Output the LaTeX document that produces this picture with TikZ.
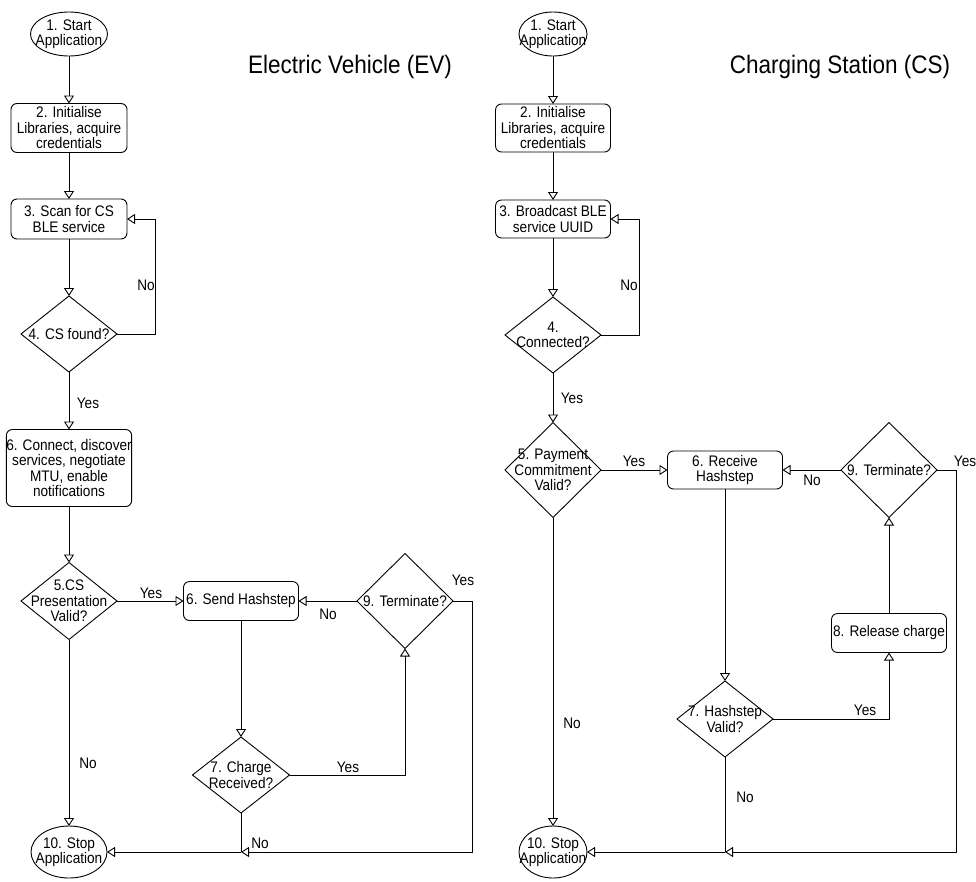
\documentclass[tikz,border=0pt]{standalone}
\usepackage{fontspec}
\setmainfont[FakeStretch=0.89]{Liberation Sans}
\usetikzlibrary{arrows.meta,shapes.geometric}
\newcommand{\lblfont}{\fontsize{15.3}{15.5}\selectfont}
\newcommand{\ttlfont}{\fontsize{25.3}{28}\selectfont}
\begin{document}
\begin{tikzpicture}[x=1pt,y=-1pt,
  base/.style={draw, line width=0.9pt, inner sep=0pt, outer sep=0pt},
  proc/.style={base, rectangle, rounded corners=6pt, align=center, font=\lblfont},
  dec/.style={base, diamond},
  term/.style={base, ellipse},
  txt/.style={align=center, font=\lblfont, inner sep=0pt},
  lab/.style={font=\lblfont, inner sep=0pt},
  ttl/.style={font=\ttlfont, inner sep=0pt},
  flow/.style={line width=0.9pt, -{Triangle[open, length=8pt, width=10pt]}},
  plain/.style={line width=0.9pt},
]
\useasboundingbox (0,0) rectangle (976,881);

% ---------------- Electric Vehicle ----------------
\node[ttl] (tev) at (350,67) {Electric Vehicle (EV)};
\node[term, minimum width=77, minimum height=44, label={[txt]center:{1. Start\\Application}}] (e1) at (69,34) {};
\node[proc, minimum width=116, minimum height=49] (e2) at (69,128) {2. Initialise\\Libraries, acquire\\credentials};
\node[proc, minimum width=116, minimum height=40] (e3) at (69,219) {3. Scan for CS\\BLE service};
\node[dec, minimum width=96, minimum height=76, label={[txt]center:{4. CS found?}}] (e4) at (69,334) {};
\node[proc, minimum width=124, minimum height=77] (e6) at (69,468) {6. Connect, discover\\services, negotiate\\MTU, enable\\notifications};
\node[dec, minimum width=96, minimum height=77, label={[txt]center:{5.CS\\Presentation\\Valid?}}] (e5) at (69,601) {};
\node[proc, minimum width=115, minimum height=39] (eh) at (241,601) {6. Send Hashstep};
\node[dec, minimum width=96, minimum height=95, label={[txt]center:{9. Terminate?}}] (e9) at (405,601) {};
\node[dec, minimum width=97, minimum height=76, label={[txt]center:{7. Charge\\Received?}}] (e7) at (241,775) {};
\node[term, minimum width=76, minimum height=52, label={[txt]center:{10. Stop\\Application}}] (e10) at (69,852) {};

\coordinate (eNo) at (155,219);
\coordinate (eY) at (472,852);
\coordinate (eJ) at (241,852);

\draw[flow] (e1) -- (e2);
\draw[flow] (e2) -- (e3);
\draw[flow] (e3) -- (e4);
\draw[flow] (e4.east) -| (eNo) -- (e3.east);
\draw[flow] (e4) -- (e6);
\draw[flow] (e6) -- (e5);
\draw[flow] (e5) -- (eh);
\draw[flow] (e9) -- (eh);
\draw[flow] (eh) -- (e7);
\draw[flow] (e7.east) -| (e9.south);
\draw[flow] (e9.east) -| (eY) -- (eJ);
\draw[plain] (e7.south) -- (eJ);
\draw[flow] (eJ) -- (e10.east);
\draw[flow] (e5) -- (e10);

\node[lab] (len) at (146,285) {No};
\node[lab] (ley) at (88,403) {Yes};
\node[lab] (ley5) at (151,593) {Yes};
\node[lab] (len9) at (328,614) {No};
\node[lab] (ley9) at (463,580) {Yes};
\node[lab] (ley7) at (348,767) {Yes};
\node[lab] (len7) at (260,843) {No};
\node[lab] (len5) at (88,763) {No};

% ---------------- Charging Station ----------------
\node[ttl] (tcs) at (840,67) {Charging Station (CS)};
\node[term, minimum width=68, minimum height=44, label={[txt]center:{1. Start\\Application}}] (c1) at (553,34) {};
\node[proc, minimum width=115, minimum height=48] (c2) at (553,128) {2. Initialise\\Libraries, acquire\\credentials};
\node[proc, minimum width=115, minimum height=38] (c3) at (553,219) {3. Broadcast BLE\\service UUID};
\node[dec, minimum width=96, minimum height=76, label={[txt]center:{4.\\Connected?}}] (c4) at (553,335) {};
\node[dec, minimum width=96, minimum height=95, label={[txt]center:{5. Payment\\Commitment\\Valid?}}] (c5) at (553,470) {};
\node[proc, minimum width=115, minimum height=38] (ch) at (725,470) {6. Receive\\Hashstep};
\node[dec, minimum width=96, minimum height=95, label={[txt]center:{9. Terminate?}}] (c9) at (889,470) {};
\node[proc, minimum width=115, minimum height=39] (c8) at (889,633) {8. Release charge};
\node[dec, minimum width=96, minimum height=76, label={[txt]center:{7. Hashstep\\Valid?}}] (c7) at (725,719) {};
\node[term, minimum width=68, minimum height=52, label={[txt]center:{10. Stop\\Application}}] (c10) at (553,852) {};

\coordinate (cNo) at (639,219);
\coordinate (cY) at (956,852);
\coordinate (cJ) at (725,852);

\draw[flow] (c1) -- (c2);
\draw[flow] (c2) -- (c3);
\draw[flow] (c3) -- (c4);
\draw[flow] (c4.east) -| (cNo) -- (c3.east);
\draw[flow] (c4) -- (c5);
\draw[flow] (c5) -- (ch);
\draw[flow] (c9) -- (ch);
\draw[flow] (ch) -- (c7);
\draw[flow] (c7.east) -| (c8.south);
\draw[flow] (c8) -- (c9);
\draw[flow] (c9.east) -| (cY) -- (cJ);
\draw[plain] (c7.south) -- (cJ);
\draw[flow] (cJ) -- (c10.east);
\draw[flow] (c5) -- (c10);

\node[lab] (cln) at (629,285) {No};
\node[lab] (cly) at (572,398) {Yes};
\node[lab] (cly5) at (634,461) {Yes};
\node[lab] (cln9) at (812,480) {No};
\node[lab] (cly9) at (965,461) {Yes};
\node[lab] (cly7) at (865,710) {Yes};
\node[lab] (cln7) at (745,797) {No};
\node[lab] (cln5) at (572,723) {No};
\end{tikzpicture}
\end{document}
